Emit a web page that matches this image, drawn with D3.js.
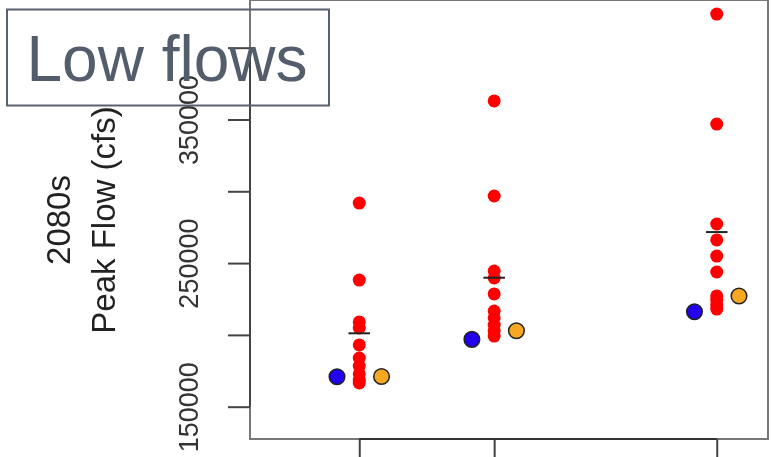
<!DOCTYPE html>
<html>
  <head>
    <title>Low flows - 2080s peak flow</title>
    <script src="https://d3js.org/d3.v7.min.js"></script>
    <style>
      html, body {
        margin:0;
        padding:0;
        background:#fff;
      }
      svg {
        filter: blur(0.5px);
      }
      svg text {
        font-family: "Liberation Sans", Arial, Helvetica, sans-serif;
      }
    </style>
  </head>

  <body>
    <div id="chart"></div>
    <script>
      // x positions of the three groups (axis labels are cut off in the picture)
      var groupX = [1, 2, 3.65];

      // ensemble (GCM) peak flows, red dots
      var gcmFlows = [
        [291800, 238200, 209000, 204800, 193000, 183900, 178300, 172800, 168600, 166500],
        [362900, 296700, 244500, 239600, 228500, 216600, 211800, 206900, 202700, 199200],
        [423400, 346800, 277200, 266100, 254900, 243800, 227100, 224300, 220800, 218000]
      ];
      // ensemble mean, black dash
      var meanFlows = [201100, 239800, 271600];
      // blue and orange reference points
      var blueFlows = [170900, 196900, 216100];
      var orangeFlows = [171000, 202900, 227100];

      var yTicks = [150000, 200000, 250000, 300000, 350000, 400000];
      var yTickLabels = ["150000", "", "250000", "", "350000", ""];

      var width = 771, height = 457;
      var plot = {left: 250, right: 768, top: 0, bottom: 439};

      var svg = d3.select("#chart").append("svg")
        .attr("width", width)
        .attr("height", height);

      var x = d3.scaleLinear().domain([0.19, 4.03]).range([plot.left, plot.right]);
      var y = d3.scaleLinear().domain([127500, 433200]).range([plot.bottom, plot.top]);

      // plot box
      svg.append("rect")
        .attr("x", plot.left)
        .attr("y", plot.top)
        .attr("width", plot.right - plot.left)
        .attr("height", plot.bottom - plot.top)
        .attr("fill", "none")
        .attr("stroke", "#777")
        .attr("stroke-width", 2);

      // y axis
      var yAxis = svg.append("g")
        .attr("transform", "translate(" + plot.left + ",0)")
        .call(d3.axisLeft(y).tickValues(yTicks).tickSize(22)
          .tickFormat(function(d, i) { return yTickLabels[i]; }));
      yAxis.select(".domain").remove();
      yAxis.selectAll(".tick line").attr("stroke", "#444").attr("stroke-width", 2);
      yAxis.selectAll(".tick text")
        .attr("x", 0).attr("dy", 0)
        .attr("transform", "translate(-52,0) rotate(-90)")
        .attr("text-anchor", "middle")
        .attr("fill", "#333")
        .style("font-size", "27px");
      yAxis.append("line")
        .attr("y1", y(yTicks[0]))
        .attr("y2", y(yTicks[yTicks.length - 1]))
        .attr("stroke", "#444")
        .attr("stroke-width", 2);

      // x axis (ticks only)
      var xAxis = svg.append("g")
        .attr("transform", "translate(0," + plot.bottom + ")")
        .call(d3.axisBottom(x).tickValues(groupX).tickSize(22).tickFormat(""));
      xAxis.select(".domain").remove();
      xAxis.selectAll(".tick line").attr("stroke", "#444").attr("stroke-width", 2);
      xAxis.append("line")
        .attr("x1", x(groupX[0]))
        .attr("x2", x(groupX[groupX.length - 1]))
        .attr("stroke", "#333")
        .attr("stroke-width", 2);

      // axis title
      var title = svg.append("text")
        .attr("transform", "translate(0,220) rotate(-90)")
        .attr("text-anchor", "middle")
        .attr("fill", "#222")
        .style("font-size", "33px");
      title.append("tspan").attr("x", 0).attr("y", 70).text("2080s");
      title.append("tspan").attr("x", 0).attr("y", 115).text("Peak Flow (cfs)");

      // red ensemble points
      var pts = [];
      gcmFlows.forEach(function(vals, i) {
        vals.forEach(function(v) { pts.push({x: groupX[i], v: v}); });
      });
      svg.append("g").selectAll("circle")
        .data(pts)
        .join("circle")
        .attr("cx", function(d) { return x(d.x); })
        .attr("cy", function(d) { return y(d.v); })
        .attr("r", 6.5)
        .attr("fill", "#ff0000");

      // mean dash
      svg.append("g").selectAll("line")
        .data(meanFlows)
        .join("line")
        .attr("x1", function(d, i) { return x(groupX[i] - 0.08); })
        .attr("x2", function(d, i) { return x(groupX[i] + 0.08); })
        .attr("y1", function(d) { return y(d); })
        .attr("y2", function(d) { return y(d); })
        .attr("stroke", "#222")
        .attr("stroke-width", 2);

      // blue and orange points
      svg.append("g").selectAll("circle")
        .data(blueFlows)
        .join("circle")
        .attr("cx", function(d, i) { return x(groupX[i] - 0.165); })
        .attr("cy", function(d) { return y(d); })
        .attr("r", 7.8)
        .attr("fill", "#2200ee")
        .attr("stroke", "#222")
        .attr("stroke-width", 1.5);

      svg.append("g").selectAll("circle")
        .data(orangeFlows)
        .join("circle")
        .attr("cx", function(d, i) { return x(groupX[i] + 0.165); })
        .attr("cy", function(d) { return y(d); })
        .attr("r", 7.8)
        .attr("fill", "#f7a823")
        .attr("stroke", "#222")
        .attr("stroke-width", 1.5);

      // "Low flows" label box
      svg.append("rect")
        .attr("x", 7)
        .attr("y", 9.5)
        .attr("width", 322)
        .attr("height", 96)
        .attr("fill", "none")
        .attr("stroke", "#59616e")
        .attr("stroke-width", 2);
      svg.append("text")
        .attr("x", 167)
        .attr("y", 81)
        .attr("text-anchor", "middle")
        .attr("fill", "#535d6b")
        .style("font-size", "64px")
        .text("Low flows");
    </script>
  </body>
</html>
